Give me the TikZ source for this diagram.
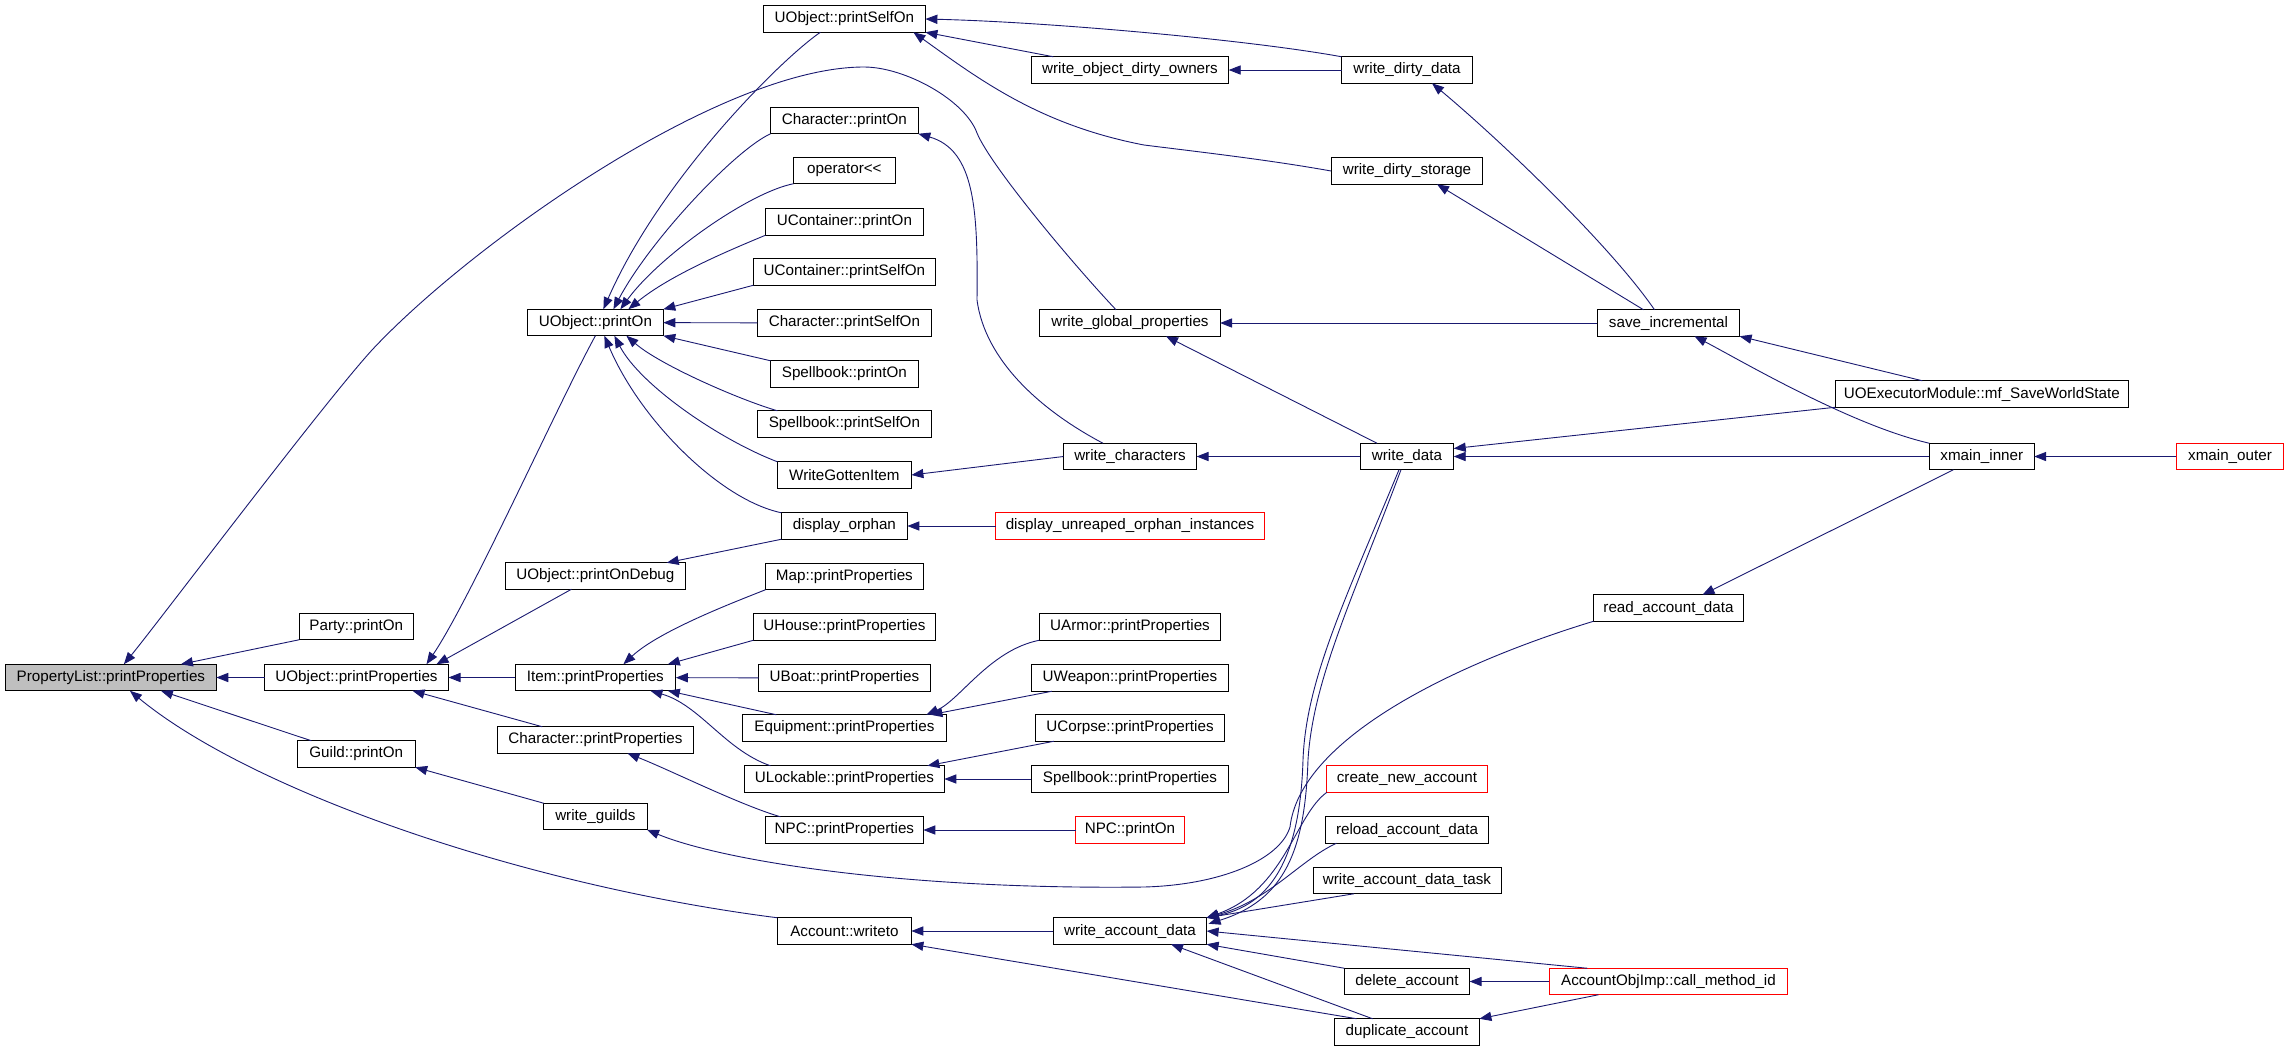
\documentclass[tikz,border=0pt]{standalone}
\usepackage{fontspec}
\setmainfont{Liberation Sans}
\usetikzlibrary{arrows.meta, calc}
\definecolor{edgeblue}{HTML}{191970}

\begin{document}
\begin{tikzpicture}[->, >={Triangle[length=6pt,width=4.6pt]}, x=0.5pt, y=-0.5pt,
  fn/.style={draw=black, line width=0.5pt, fill=white, inner sep=0pt, outer sep=0pt,
    minimum height=13.25pt, font=\fontsize{7.6}{9}\selectfont},
  ext/.style={fn, draw=red},
  root/.style={fn, fill=black!25},
  every edge/.style={draw=edgeblue, line width=0.45pt},
  call/.style={draw=edgeblue, line width=0.45pt}]

  \useasboundingbox (0,0) rectangle (2288,1051);

  % column 0
  \node[root, minimum width=105.4pt] (plpp) at (110.9,677.5) {PropertyList::printProperties};
  % column 1
  \node[fn, minimum width=57.1pt] (party) at (356.3,626.5) {Party::printOn};
  \node[fn, minimum width=92pt] (uopp) at (356.5,677.5) {UObject::printProperties};
  \node[fn, minimum width=58.9pt] (guild) at (356.3,754) {Guild::printOn};
  % column 2
  \node[fn, minimum width=67.9pt] (uopo) at (595.4,322.5) {UObject::printOn};
  \node[fn, minimum width=90.3pt] (uopod) at (595.4,576) {UObject::printOnDebug};
  \node[fn, minimum width=80.4pt] (itempp) at (595.4,677.5) {Item::printProperties};
  \node[fn, minimum width=98.1pt] (charpp) at (595.4,740) {Character::printProperties};
  \node[fn, minimum width=51.6pt] (wguilds) at (595.4,816.5) {write\_guilds};
  % column 3
  \node[fn, minimum width=81pt] (uopso) at (844.4,19) {UObject::printSelfOn};
  \node[fn, minimum width=73.9pt] (charpo) at (844.4,120.5) {Character::printOn};
  \node[fn, minimum width=50.9pt] (oplt) at (844.4,170.5) {operator<\kern0pt<};
  \node[fn, minimum width=79pt] (ucpo) at (844.4,222) {UContainer::printOn};
  \node[fn, minimum width=91pt] (ucpso) at (844.4,272) {UContainer::printSelfOn};
  \node[fn, minimum width=87pt] (charpso) at (844.4,323) {Character::printSelfOn};
  \node[fn, minimum width=73.9pt] (sbpo) at (844.4,374) {Spellbook::printOn};
  \node[fn, minimum width=87pt] (sbpso) at (844.4,424) {Spellbook::printSelfOn};
  \node[fn, minimum width=67pt] (wgi) at (844.4,475) {WriteGottenItem};
  \node[fn, minimum width=63pt] (dorph) at (844.4,526) {display\_orphan};
  \node[fn, minimum width=79pt] (mappp) at (844.4,576.5) {Map::printProperties};
  \node[fn, minimum width=91pt] (uhpp) at (844.4,627) {UHouse::printProperties};
  \node[fn, minimum width=85.9pt] (ubpp) at (844.4,678) {UBoat::printProperties};
  \node[fn, minimum width=102pt] (eqpp) at (844.4,728) {Equipment::printProperties};
  \node[fn, minimum width=100pt] (ulpp) at (844.4,779) {ULockable::printProperties};
  \node[fn, minimum width=79pt] (npcpp) at (844.4,830) {NPC::printProperties};
  \node[fn, minimum width=67pt] (accwt) at (844.4,931) {Account::writeto};
  % column 4
  \node[fn, minimum width=98.7pt] (wodo) at (1130,70) {write\_object\_dirty\_owners};
  \node[fn, minimum width=90.1pt] (wgp) at (1130,323) {write\_global\_properties};
  \node[fn, minimum width=66.6pt] (wchars) at (1130,456.5) {write\_characters};
  \node[ext, minimum width=134.3pt] (duoi) at (1130,526) {display\_unreaped\_orphan\_instances};
  \node[fn, minimum width=90.7pt] (uapp) at (1130,627) {UArmor::printProperties};
  \node[fn, minimum width=98.1pt] (uwpp) at (1130,678) {UWeapon::printProperties};
  \node[fn, minimum width=94.1pt] (ucopp) at (1130,728) {UCorpse::printProperties};
  \node[fn, minimum width=98.7pt] (sbpp) at (1130,779) {Spellbook::printProperties};
  \node[ext, minimum width=54.5pt] (npcpo) at (1130,830) {NPC::printOn};
  \node[fn, minimum width=76.6pt] (wad) at (1130,931) {write\_account\_data};
  % column 5
  \node[fn, minimum width=65.5pt] (wdd) at (1407,70) {write\_dirty\_data};
  \node[fn, minimum width=75.9pt] (wds) at (1407,171) {write\_dirty\_storage};
  \node[fn, minimum width=46.7pt] (wdata) at (1407,456.5) {write\_data};
  \node[ext, minimum width=80.1pt] (cna) at (1407,779) {create\_new\_account};
  \node[fn, minimum width=81.6pt] (rad) at (1407,830) {reload\_account\_data};
  \node[fn, minimum width=94pt] (wadt) at (1407,880.5) {write\_account\_data\_task};
  \node[fn, minimum width=62.6pt] (dela) at (1407,981.5) {delete\_account};
  \node[fn, minimum width=72.4pt] (dupa) at (1407,1032) {duplicate\_account};
  % column 6
  \node[fn, minimum width=71.1pt] (saveinc) at (1668.5,323) {save\_incremental};
  \node[fn, minimum width=75pt] (readad) at (1668.5,608) {read\_account\_data};
  \node[ext, minimum width=119.1pt] (aoi) at (1668.5,981.5) {AccountObjImp::call\_method\_id};
  % column 7 and 8
  \node[fn, minimum width=146.5pt] (uoexec) at (1981.8,394) {UOExecutorModule::mf\_SaveWorldState};
  \node[fn, minimum width=52.4pt] (xinner) at (1981.8,456.5) {xmain\_inner};
  \node[ext, minimum width=53.7pt] (xouter) at (2230,456.5) {xmain\_outer};

  % straight calls
  \path (uopp) edge (plpp)
        (party.south west) edge ($(plpp.north)+(70,0)$)
        ($(guild.north west)+(14,0)$) edge ($(plpp.south)+(50,0)$)
        (itempp) edge (uopp)
        ($(uopod.south)+(-24,0)$) edge ($(uopp.north)+(80,0)$)
        ($(charpp.north west)+(45,0)$) edge ($(uopp.south)+(56,0)$)
        (charpso) edge (uopo)
        (ucpso.south west) edge (uopo.north east)
        (sbpo.north west) edge (uopo.south east)
        (dorph.south west) edge ($(uopod.north east)+(-19,0)$)
        (ubpp) edge (itempp)
        (uhpp.south west) edge ($(itempp.north east)+(-8,0)$)
        ($(eqpp.north west)+(34,0)$) edge ($(itempp.south east)+(-8,0)$)
        ($(uwpp.south west)+(20,0)$) edge ($(eqpp.north east)+(-16,0)$)
        ($(ucopp.south west)+(18,0)$) edge ($(ulpp.north east)+(-17,0)$)
        (sbpp) edge (ulpp)
        (npcpo) edge (npcpp)
        (wguilds.north west) edge (guild.south east)
        (wad) edge (accwt)
        ($(dupa.north west)+(22,0)$) edge (accwt.south east)
        ($(wodo.north west)+(22,0)$) edge (uopso.south east)
        (wdd) edge (wodo)
        (wchars.west) edge (wgi.east)
        (duoi) edge (dorph)
        (wdata) edge (wchars)
        ($(wdata.north)+(-30,0)$) edge ($(wgp.south)+(36,0)$)
        (saveinc) edge (wgp)
        ($(saveinc.north)+(-25,0)$) edge ($(wds.south)+(30,0)$)
        ($(wadt.south west)+(41,0)$) edge (wad.north east)
        (dela.north west) edge (wad.south east)
        ($(aoi.north west)+(38,0)$) edge (wad.east)
        ($(dupa.north west)+(38,0)$) edge ($(wad.south)+(41,0)$)
        (aoi) edge (dela)
        ($(aoi.south west)+(49,0)$) edge (dupa.north east)
        ($(uoexec.north west)+(87,0)$) edge (saveinc.south east)
        (uoexec.south west) edge ($(wdata.east)+(0,-8)$)
        (xinner) edge (wdata)
        ($(xinner.south west)+(24,0)$) edge ($(readad.north east)+(-41,0)$)
        (xouter) edge (xinner);

  % curved calls
  \draw[call] ($(wgp.north)+(-14,0)$) .. controls (1071,262) and (990,165) .. (977,133)
    .. controls (965,100) and (905,67) .. (864,67)
    .. controls (720,67) and (470,245) .. (372,350)
    .. controls (322,405) and (160,620) .. ($(plpp.north)+(13,0)$);
  \draw[call] (accwt.north west) .. controls (520,885) and (250,790) .. ($(plpp.south)+(19,0)$);
  \draw[call] (uopo.south) .. controls (560,400) and (470,600) .. ($(uopp.north)+(70,0)$);
  \draw[call] ($(uopso.south)+(-24,0)$) .. controls (780,60) and (660,180) .. ($(uopo.north)+(8,0)$);
  \draw[call] (charpo.south west) .. controls (735,150) and (650,240) .. ($(uopo.north)+(18,0)$);
  \draw[call] (oplt.south west) .. controls (750,192) and (660,255) .. ($(uopo.north)+(25,0)$);
  \draw[call] (ucpo.south west) .. controls (730,250) and (670,275) .. ($(uopo.north)+(33,0)$);
  \draw[call] ($(sbpso.north west)+(20,0)$) .. controls (740,400) and (660,365) .. ($(uopo.south)+(31,0)$);
  \draw[call] (wgi.north west) .. controls (720,440) and (640,385) .. ($(uopo.south)+(19,0)$);
  \draw[call] (dorph.north west) .. controls (720,500) and (640,420) .. ($(uopo.south)+(9,0)$);
  \draw[call] (wdd.north west) .. controls (1250,40) and (1050,22) .. (uopso.east);
  \draw[call] (wds.west) .. controls (1270,160) and (1200,152) .. (1144,145)
    .. controls (1040,125) and (980,80) .. ($(uopso.south east)+(-12,0)$);
  \draw[call] ($(saveinc.north)+(-14,0)$) .. controls (1610,245) and (1500,140) .. ($(wdd.south)+(25,0)$);
  \draw[call] ($(wchars.north)+(-27,0)$) .. controls (1040,410) and (985,360) .. (977,300)
    .. controls (978,210) and (975,150) .. (charpo.south east);
  \draw[call] (mappp.south west) .. controls (740,600) and (660,630) .. ($(itempp.north)+(28,0)$);
  \draw[call] ($(ulpp.north west)+(26,0)$) .. controls (725,750) and (700,705) .. ($(itempp.south)+(55,0)$);
  \draw[call] (uapp.south west) .. controls (990,650) and (960,700) .. ($(eqpp.north east)+(-20,0)$);
  \draw[call] ($(npcpp.north west)+(15,0)$) .. controls (740,805) and (670,770) .. ($(charpp.south)+(32,0)$);
  \draw[call] (readad.south west) .. controls (1450,665) and (1300,740) .. (1290,827)
    .. controls (1280,860) and (1220,885) .. (1144,887)
    .. controls (900,890) and (720,860) .. (wguilds.south east);
  \draw[call] (cna.south west) .. controls (1295,815) and (1285,890) .. (wad.north east);
  \draw[call] ($(rad.south west)+(11,0)$) .. controls (1300,860) and (1270,900) .. (wad.north east);
  \draw[call] ($(wdata.south)+(-8,0)$) .. controls (1345,600) and (1306,680) .. (1303,760)
    .. controls (1300,860) and (1270,905) .. (wad.north east);
  \draw[call] ($(wdata.south)+(-6,0)$) .. controls (1352,600) and (1313,680) .. (1308,760)
    .. controls (1305,850) and (1285,900) .. ($(wad.north east)+(2,6)$);
  \draw[call] (xinner.north west) .. controls (1850,425) and (1740,360) .. ($(saveinc.south)+(26,0)$);

\end{tikzpicture}
\end{document}
